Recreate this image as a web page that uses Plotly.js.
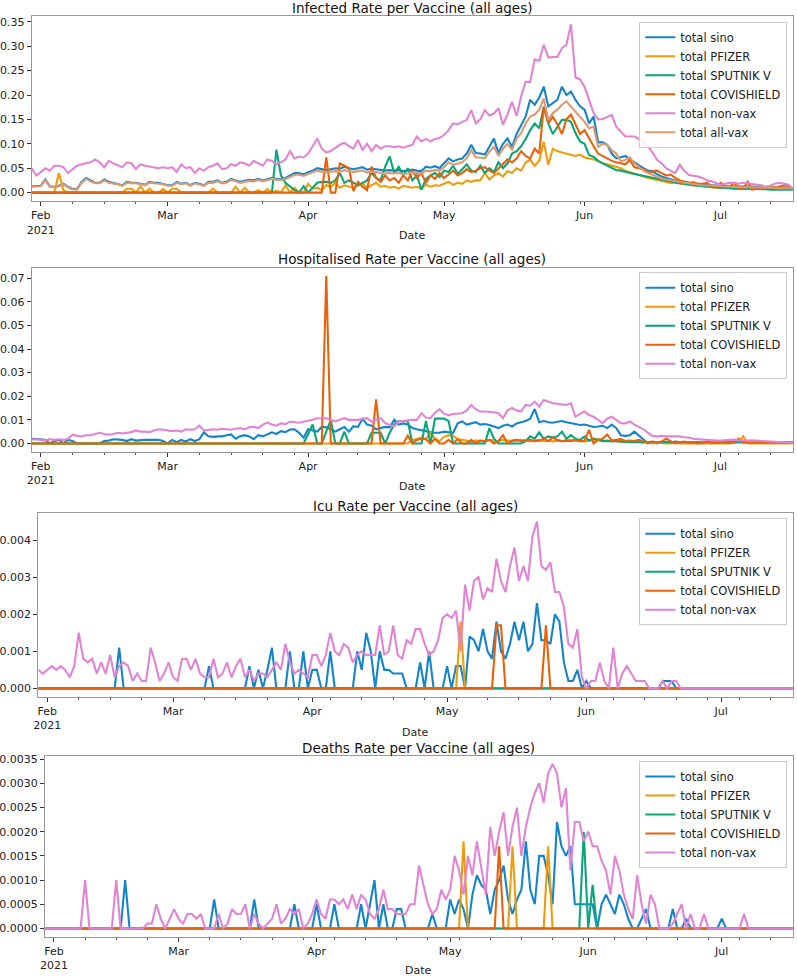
<!DOCTYPE html>
<html>
<head>
<meta charset="utf-8">
<script src="https://cdn.plot.ly/plotly-3.0.1.min.js"></script>
<style>
  html, body { margin: 0; padding: 0; background: #fff; }
  #chart { width: 797px; height: 977px; }
</style>
</head>
<body>
<div id="chart"></div>
<script>
// daily values, 2021-01-30 .. 2021-07-17 (169 days)
const START_DAY = '2021-01-30';
const END_DAY = '2021-07-17';

// ---------- infected ----------
const infSino = [
  .013,.013,.014,.027,.013,.012,.014,.018,.012,.008,
  .007,.022,.030,.025,.020,.020,.027,.022,.020,.018,
  .015,.022,.020,.020,.018,.016,.022,.020,.020,.018,
  .015,.015,.022,.018,.020,.015,.020,.018,.015,.022,
  .022,.025,.020,.022,.028,.025,.022,.024,.026,.025,
  .028,.025,.027,.030,.028,.028,.030,.035,.040,.040,
  .037,.042,.045,.050,.048,.046,.048,.050,.049,.053,
  .050,.048,.050,.052,.047,.049,.048,.047,.045,.046,
  .045,.046,.044,.045,.047,.045,.044,.053,.051,.054,
  .050,.060,.070,.064,.068,.070,.080,.098,.081,.080,
  .078,.094,.111,.081,.100,.111,.094,.120,.139,.156,
  .190,.180,.195,.217,.177,.184,.190,.217,.200,.207,
  .190,.177,.170,.142,.156,.103,.103,.098,.080,.070,
  .072,.075,.068,.062,.055,.050,.045,.043,.038,.033,
  .030,.027,.025,.022,.022,.020,.018,.018,.016,.016,
  .015,.015,.014,.013,.013,.013,.012,.012,.012,.012,
  .012,.012,.011,.011,.011,.010,.010,.010,.010
];
const infPfizer = [
  0,0,0,0,0,0,.040,.005,0,0,
  0,0,0,0,0,0,0,0,0,0,
  0,.008,.008,0,.013,0,.008,0,0,.007,
  0,.008,.008,0,0,0,0,0,0,0,
  .008,0,0,0,0,.012,0,.010,0,0,
  .005,0,.007,0,.004,0,.015,0,.010,0,
  0,.018,.008,.010,.005,.015,.012,.020,.010,.015,
  .012,.010,.015,.018,.010,.015,.020,.012,.014,.010,
  .012,.008,.014,.012,.010,.012,.008,.016,.012,.015,
  .014,.018,.022,.016,.020,.018,.025,.022,.025,.025,
  .040,.027,.035,.040,.033,.044,.040,.050,.045,.062,
  .067,.055,.065,.104,.057,.090,.085,.082,.080,.078,
  .075,.078,.072,.070,.068,.064,.060,.058,.055,.052,
  .050,.045,.042,.038,.035,.033,.030,.028,.026,.024,
  .022,.020,.020,.018,.017,.016,.015,.014,.012,.012,
  .010,.010,.010,.009,.009,.008,.008,.008,.008,.008,
  .008,.008,.008,.008,.008,.008,.008,.008,.008
];
const infSputnik = [
  0,0,0,0,0,0,0,0,0,0,
  0,0,0,0,0,0,0,0,0,0,
  0,0,0,0,0,0,0,0,0,0,
  0,0,0,0,0,0,0,0,0,0,
  0,0,0,0,0,0,0,0,0,0,
  0,0,0,0,.088,.035,.020,.013,.005,0,
  .013,0,.010,.020,.022,.022,.020,.025,.040,.020,
  .025,.020,.015,.020,.025,.040,.030,.025,.053,.074,
  .040,.053,.035,.050,.025,.035,.006,.028,.035,.040,
  .032,.045,.042,.055,.038,.048,.058,.045,.042,.055,
  .040,.050,.042,.062,.050,.060,.080,.085,.095,.110,
  .128,.142,.132,.176,.142,.120,.135,.149,.149,.145,
  .122,.105,.100,.077,.073,.065,.060,.055,.050,.046,
  .045,.042,.040,.038,.036,.034,.032,.030,.028,.026,
  .024,.022,.020,.019,.018,.016,.015,.014,.013,.012,
  .011,.011,.010,.010,.009,.009,.008,.008,.008,.007,
  .007,.007,.007,.006,.006,.006,.006,.006,.006
];
const infCovishield = [
  0,0,0,0,0,0,0,0,0,0,
  0,0,0,0,0,0,0,0,0,0,
  0,0,0,0,0,0,0,0,0,0,
  0,0,0,0,0,0,0,0,0,0,
  0,0,0,0,0,0,0,0,0,0,
  0,0,0,0,0,0,0,0,0,0,
  0,0,0,0,0,.072,0,0,.060,.055,
  .050,.003,.022,.012,.005,.053,.030,.022,.035,.025,
  .030,.020,.035,.025,.045,.030,.040,.020,.035,.028,
  .040,.030,.038,.045,.035,.040,.048,.042,.045,.050,
  .052,.045,.040,.050,.060,.068,.062,.070,.085,.075,
  .070,.090,.080,.176,.142,.155,.140,.120,.150,.160,
  .140,.120,.128,.110,.095,.080,.075,.070,.065,.062,
  .060,.058,.067,.052,.050,.048,.042,.043,.045,.040,
  .035,.037,.030,.025,.022,.020,.021,.018,.018,.020,
  .014,.012,.020,.015,.012,.020,.010,.008,.022,.006,
  .008,.008,.011,.013,.010,.012,.015,.014,.008
];
const infNonVax = [
  .050,.035,.042,.050,.045,.055,.055,.052,.040,.048,
  .055,.058,.060,.062,.068,.062,.052,.065,.060,.056,
  .052,.062,.060,.048,.058,.055,.053,.052,.050,.052,
  .050,.052,.042,.058,.050,.052,.040,.050,.045,.052,
  .055,.060,.048,.050,.058,.055,.062,.060,.055,.065,
  .060,.055,.068,.065,.058,.062,.068,.085,.070,.074,
  .072,.080,.095,.111,.090,.082,.085,.092,.098,.102,
  .095,.090,.108,.088,.100,.085,.098,.090,.095,.095,
  .093,.095,.092,.095,.098,.115,.105,.110,.105,.110,
  .112,.118,.128,.142,.140,.145,.149,.169,.142,.150,
  .169,.158,.162,.173,.139,.160,.186,.157,.197,.227,
  .227,.273,.270,.303,.277,.278,.278,.296,.303,.345,
  .236,.232,.217,.190,.163,.150,.151,.155,.159,.135,
  .125,.115,.115,.115,.110,.104,.094,.082,.067,.060,
  .050,.045,.040,.057,.045,.036,.035,.033,.030,.025,
  .023,.020,.016,.018,.020,.020,.018,.020,.019,.018,
  .017,.015,.012,.014,.018,.020,.018,.016,.008
];
const infAllVax = [
  .012,.012,.013,.025,.012,.011,.013,.017,.011,.007,
  .006,.020,.028,.023,.019,.019,.025,.020,.019,.017,
  .014,.020,.019,.019,.017,.015,.020,.019,.019,.017,
  .014,.014,.020,.017,.019,.014,.019,.017,.014,.020,
  .020,.023,.019,.020,.026,.023,.020,.022,.024,.023,
  .026,.023,.025,.028,.026,.026,.028,.032,.036,.037,
  .034,.038,.041,.045,.043,.041,.043,.044,.043,.046,
  .044,.042,.044,.045,.041,.043,.042,.041,.039,.040,
  .039,.040,.038,.039,.041,.040,.039,.045,.044,.046,
  .045,.052,.062,.057,.060,.062,.070,.087,.072,.072,
  .070,.084,.094,.075,.090,.100,.088,.110,.122,.142,
  .156,.160,.170,.193,.149,.163,.170,.180,.187,.177,
  .166,.156,.145,.132,.135,.094,.100,.098,.087,.080,
  .064,.067,.072,.060,.052,.045,.040,.036,.033,.029,
  .027,.025,.023,.021,.020,.019,.017,.016,.015,.015,
  .014,.014,.013,.012,.012,.012,.011,.011,.011,.011,
  .011,.011,.010,.010,.010,.009,.009,.009,.009
];

// ---------- hospitalised ----------
const hospSino = [
  .0020,.0020,.0018,.0015,0,.0010,.0015,0,.0015,.0010,
  0,0,0,0,0,0,.0010,.0012,.0018,.0018,
  .0015,.0010,.0018,.0012,.0015,.0015,.0015,.0015,.0015,.0010,
  0,.0015,.0005,.0015,.0008,.0018,.0010,.0018,.0047,.0030,
  .0028,.0030,.0030,.0035,.0038,.0020,.0030,.0035,.0030,.0018,
  .0035,.0030,.0040,.0047,.0040,.0052,.0048,.0059,.0060,.0045,
  .0024,.0060,.0055,.0050,.0070,.0068,.0060,.0050,.0060,.0070,
  .0050,.0073,.0070,.0105,.0080,.0075,.0060,.0065,.0070,.0068,
  .0100,.0080,.0085,.0080,.0065,.0060,.0055,.0050,.0048,.0045,
  .0045,.0050,.0048,.0045,.0085,.0093,.0080,.0085,.0090,.0080,
  .0082,.0078,.0070,.0065,.0075,.0080,.0072,.0085,.0090,.0095,
  .0105,.0146,.0090,.0095,.0090,.0088,.0092,.0095,.0090,.0085,
  .0080,.0078,.0080,.0075,.0070,.0072,.0075,.0065,.0080,.0065,
  .0035,.0032,.0035,.0050,.0035,.0017,0,.0005,0,.0005,
  .0005,.0003,.0008,.0005,.0003,.0005,.0003,.0005,.0003,.0005,
  .0005,.0003,.0005,.0005,.0003,.0005,.0005,.0005,.0003,.0005,
  .0005,.0005,.0003,.0005,.0005,.0003,.0005,.0005,.0005
];
const hospPfizer = [
  0,0,0,0,0,0,0,0,0,0,
  0,0,0,0,0,0,0,0,0,0,
  0,0,0,0,0,0,0,0,0,0,
  0,0,0,0,0,0,0,0,0,0,
  0,0,0,0,0,0,0,0,0,0,
  0,0,0,0,0,0,0,0,0,0,
  0,0,0,0,0,0,0,0,0,0,
  0,0,0,0,0,0,0,0,0,0,
  0,0,0,0,.0015,.0020,.0025,.0018,.0045,.0020,
  .0010,.0028,.0035,.0033,.0018,.0015,.0012,.0008,.0012,.0010,
  .0010,.0015,.0012,.0010,.0015,.0012,.0010,.0012,.0015,.0012,
  .0010,.0012,.0015,.0010,.0012,.0008,.0012,.0010,.0012,.0015,
  .0012,.0010,.0008,.0012,.0015,.0018,.0010,.0008,.0012,.0010,
  .0008,.0005,.0010,.0008,.0005,.0003,.0005,0,.0003,0,
  0,0,.0003,0,0,.0003,0,0,0,0,
  0,0,.0003,0,0,.0005,.0005,.0030,0,0,
  0,0,0,0,0,0,0,0,0
];
const hospSputnik = [
  0,0,0,0,0,0,0,0,0,0,
  0,0,0,0,0,0,0,0,0,0,
  0,0,0,0,0,0,0,0,0,0,
  0,0,0,0,0,0,0,0,0,0,
  0,0,0,0,0,0,0,0,0,0,
  0,0,0,0,0,0,0,0,0,0,
  0,.0040,.0080,0,0,.0050,.0100,0,0,.0050,
  0,0,0,0,0,.0045,.0045,.0045,0,.0045,
  .0080,.0095,.0095,.0095,0,0,0,.0095,0,.0105,
  .0105,.0105,.0095,0,0,0,0,0,0,0,
  0,.0065,.0020,0,0,0,0,0,0,.0010,
  .0030,.0020,.0047,.0020,.0030,.0025,.0030,.0050,.0020,.0035,
  .0020,.0015,.0030,.0012,.0020,.0015,.0010,.0012,.0008,.0010,
  .0008,.0005,.0005,.0005,.0005,.0005,.0005,.0005,.0005,.0005,
  .0005,.0005,.0005,.0005,.0005,.0005,.0005,.0005,.0005,.0005,
  .0005,.0005,.0005,.0005,.0005,.0005,.0005,.0005,.0005,.0005,
  .0005,.0005,.0005,.0005,.0005,.0005,.0005,.0005,.0005
];
const hospCovishield = [
  0,0,0,0,0,0,0,0,0,0,
  0,0,0,0,0,0,0,0,0,0,
  0,0,0,0,0,0,0,0,0,0,
  0,0,0,0,0,0,0,0,0,0,
  0,0,0,0,0,0,0,0,0,0,
  0,0,0,0,0,0,0,0,0,0,
  0,0,0,0,0,.0710,0,0,0,0,
  0,0,0,0,0,0,.0187,0,0,0,
  0,0,0,.0033,0,.0015,.0020,.0018,0,.0020,
  0,0,.0015,0,.0018,0,0,.0015,0,.0012,
  .0010,.0015,0,.0010,.0035,0,.0012,.0015,.0010,.0012,
  .0015,.0010,.0012,.0020,.0010,.0025,.0015,.0010,.0012,.0010,
  .0015,.0010,.0012,.0057,0,.0015,.0020,.0038,.0012,.0015,
  .0018,.0010,.0012,.0010,.0015,.0008,.0005,.0008,.0005,.0008,
  .0020,.0010,0,.0005,.0008,.0003,.0005,0,.0003,.0005,
  .0003,.0003,.0003,.0003,.0003,.0003,.0020,.0003,.0005,.0003,
  .0003,.0005,.0003,.0003,.0005,.0003,.0003,.0005,.0003
];
const hospNonVax = [
  .0017,.0018,.0015,.0012,.0018,.0015,.0018,.0015,.0020,.0037,
  .0032,.0030,.0035,.0035,.0040,.0045,.0040,.0037,.0040,.0045,
  .0042,.0045,.0048,.0055,.0050,.0050,.0048,.0055,.0060,.0058,
  .0055,.0052,.0055,.0050,.0060,.0058,.0060,.0075,.0055,.0058,
  .0060,.0058,.0062,.0060,.0058,.0062,.0065,.0060,.0068,.0070,
  .0065,.0080,.0089,.0080,.0075,.0085,.0082,.0093,.0090,.0088,
  .0092,.0095,.0100,.0107,.0107,.0107,.0100,.0093,.0100,.0107,
  .0100,.0100,.0100,.0104,.0107,.0093,.0100,.0107,.0086,.0080,
  .0072,.0093,.0095,.0100,.0100,.0100,.0128,.0110,.0107,.0130,
  .0145,.0125,.0120,.0125,.0128,.0128,.0140,.0163,.0145,.0135,
  .0135,.0135,.0132,.0128,.0107,.0140,.0150,.0140,.0135,.0163,
  .0160,.0177,.0156,.0184,.0178,.0170,.0168,.0165,.0163,.0170,
  .0113,.0125,.0135,.0120,.0113,.0100,.0086,.0105,.0113,.0100,
  .0086,.0085,.0093,.0080,.0070,.0060,.0045,.0032,.0030,.0032,
  .0030,.0030,.0032,.0030,.0026,.0025,.0020,.0018,.0016,.0015,
  .0014,.0012,.0012,.0014,.0015,.0016,.0014,.0012,.0012,.0013,
  .0012,.0010,.0010,.0008,.0008,.0006,.0005,.0004,.0003
];

// ---------- icu ----------
const icuSino = [
  0,0,0,0,0,0,0,0,0,0,
  0,0,0,0,0,0,0,0,.0011,0,
  0,0,0,0,0,0,0,0,0,0,
  0,0,0,0,0,0,0,0,.0006,0,
  0,0,0,0,0,0,0,.0006,0,.0005,
  0,.0005,.0011,0,0,0,.0010,0,0,.0010,
  0,.0005,.0005,0,0,.0010,0,0,0,0,
  0,.0010,.0005,.0015,.0010,0,.0010,.0005,.0005,.0004,
  .0004,.0004,0,0,0,.0007,0,.0010,0,0,
  0,.0006,0,.0006,.0006,0,.0014,.0013,.0010,.0016,
  .0010,.0008,.0018,.0010,.0008,.0012,.0018,.0013,.0018,.0010,
  .0012,.0023,.0013,.0013,.0012,.0020,.0018,.0007,.0002,.0002,
  .0005,0,.0002,0,0,0,0,0,0,0,
  0,0,0,0,0,0,0,0,0,.0002,
  .0002,.0002,0,0,0,0,0,0,0,0,
  0,0,0,0,0,0,0,0,0,0,
  0,0,0,0,0,0,0,0,0
];
const icuPfizer = [
  0,0,0,0,0,0,0,0,0,0,
  0,0,0,0,0,0,0,0,0,0,
  0,0,0,0,0,0,0,0,0,0,
  0,0,0,0,0,0,0,0,0,0,
  0,0,0,0,0,0,0,0,0,0,
  0,0,0,0,0,0,0,0,0,0,
  0,0,0,0,0,0,0,0,0,0,
  0,0,0,0,0,0,0,0,0,0,
  0,0,0,0,0,0,0,0,0,0,
  0,0,0,0,.0018,0,0,0,0,0,
  0,0,0,0,0,0,0,0,0,0,
  0,0,0,0,0,0,0,0,0,0,
  0,0,0,0,0,0,0,0,0,0,
  0,0,0,0,0,0,0,0,0,0,
  0,0,0,0,0,0,0,0,0,0,
  0,0,0,0,0,0,0,0,0,0,
  0,0,0,0,0,0,0,0,0
];
const icuSputnik = [
  0,0,0,0,0,0,0,0,0,0,
  0,0,0,0,0,0,0,0,0,0,
  0,0,0,0,0,0,0,0,0,0,
  0,0,0,0,0,0,0,0,0,0,
  0,0,0,0,0,0,0,0,0,0,
  0,0,0,0,0,0,0,0,0,0,
  0,0,0,0,0,0,0,0,0,0,
  0,0,0,0,0,0,0,0,0,0,
  0,0,0,0,0,0,0,0,0,0,
  0,0,0,0,0,0,0,0,0,0,
  0,0,0,0,0,0,0,0,0,0,
  0,0,0,0,0,0,0,0,0,0,
  0,0,0,0,0,0,0,0,0,0,
  0,0,0,0,0,0,0,0,0,0,
  0,0,0,0,0,0,0,0,0,0,
  0,0,0,0,0,0,0,0,0,0,
  0,0,0,0,0,0,0,0,0
];
const icuCovishield = [
  0,0,0,0,0,0,0,0,0,0,
  0,0,0,0,0,0,0,0,0,0,
  0,0,0,0,0,0,0,0,0,0,
  0,0,0,0,0,0,0,0,0,0,
  0,0,0,0,0,0,0,0,0,0,
  0,0,0,0,0,0,0,0,0,0,
  0,0,0,0,0,0,0,0,0,0,
  0,0,0,0,0,0,0,0,0,0,
  0,0,0,0,0,0,0,0,0,0,
  0,0,0,0,0,0,0,0,0,0,
  0,0,.0017,.0017,0,0,0,0,0,0,
  0,0,0,.0017,0,0,0,0,0,0,
  0,0,0,0,0,0,0,0,0,0,
  0,0,0,0,0,0,0,0,0,0,
  0,0,0,0,0,0,0,0,0,0,
  0,0,0,0,0,0,0,0,0,0,
  0,0,0,0,0,0,0,0,0
];
const icuNonVax = [
  .0005,.0004,.0005,.0006,.0005,.0006,.0005,.0003,.0006,.0015,
  .0008,.0007,.0008,.0004,.0007,.0004,.0009,.0003,.0006,.0007,
  .0006,.0002,.0004,.0002,.0002,.0011,.0007,.0002,.0004,.0007,
  .0003,.0002,.0008,.0008,.0005,.0008,.0004,.0003,.0003,.0008,
  .0003,.0004,.0007,.0003,.0006,.0008,.0003,.0005,.0002,.0004,
  .0004,.0003,.0005,.0007,.0005,.0012,.0007,.0004,.0005,.0004,
  .0003,.0009,.0009,.0006,.0009,.0015,.0010,.0009,.0012,.0011,
  .0007,.0009,.0010,.0009,.0009,.0009,.0017,.0009,.0010,.0017,
  .0009,.0008,.0013,.0012,.0016,.0016,.0012,.0009,.0010,.0013,
  .0019,.0020,.0019,.0021,.0010,.0028,.0021,.0029,.0030,.0024,
  .0027,.0026,.0035,.0029,.0026,.0033,.0038,.0029,.0033,.0029,
  .0041,.0045,.0033,.0032,.0034,.0026,.0026,.0022,.0012,.0011,
  .0016,.0003,0,.0002,.0002,.0007,.0002,0,.0011,0,
  .0004,.0006,.0004,.0002,.0002,.0002,0,0,0,.0002,
  0,.0002,.0002,0,0,0,0,0,0,0,
  0,0,0,0,0,0,0,0,0,0,
  0,0,0,0,0,0,0,0,0
];

// ---------- deaths ----------
const dthSino = [
  0,0,0,0,0,0,0,0,0,0,
  0,0,0,0,0,0,0,0,.0010,0,
  0,0,0,0,0,0,0,0,0,0,
  0,0,0,0,0,0,0,0,.0006,0,
  0,0,0,0,0,0,0,.0006,0,0,
  0,0,0,0,0,0,.0005,0,0,0,
  0,.0005,0,0,0,.0005,0,0,0,0,
  0,.0005,0,.0005,.0010,0,.0005,0,0,.0004,
  .0004,0,0,0,0,0,0,.0003,0,0,
  0,.0006,.0003,.0006,.0004,0,.0007,.0011,.0009,.0008,
  .0003,.0008,.0010,.0013,.0006,.0003,.0006,.0008,.0018,.0008,
  .0005,.0015,.0015,.0011,.0005,.0022,.0017,.0015,.0017,.0005,
  .0005,.0005,.0005,.0005,0,.0005,.0007,.0005,.0003,.0007,
  .0005,.0002,0,0,.0002,.0004,0,0,0,0,
  0,.0004,0,0,.0002,0,0,0,0,0,
  0,0,.0002,0,0,0,0,0,0,0,
  0,0,0,0,0,0,0,0,0
];
const dthPfizer = [
  0,0,0,0,0,0,0,0,0,0,
  0,0,0,0,0,0,0,0,0,0,
  0,0,0,0,0,0,0,0,0,0,
  0,0,0,0,0,0,0,0,0,0,
  0,0,0,0,0,0,0,0,0,0,
  0,0,0,0,0,0,0,0,0,0,
  0,0,0,0,0,0,0,0,0,0,
  0,0,0,0,0,0,0,0,0,0,
  0,0,0,0,0,0,0,0,0,0,
  0,0,0,0,.0018,0,0,0,0,0,
  0,0,0,0,0,.0017,0,0,0,0,
  0,0,0,.0017,0,0,0,0,0,0,
  0,0,0,0,0,0,0,0,0,0,
  0,0,0,0,0,0,0,0,0,0,
  0,0,0,0,0,0,0,0,0,0,
  0,0,0,0,0,0,0,0,0,0,
  0,0,0,0,0,0,0,0,0
];
const dthSputnik = [
  0,0,0,0,0,0,0,0,0,0,
  0,0,0,0,0,0,0,0,0,0,
  0,0,0,0,0,0,0,0,0,0,
  0,0,0,0,0,0,0,0,0,0,
  0,0,0,0,0,0,0,0,0,0,
  0,0,0,0,0,0,0,0,0,0,
  0,0,0,0,0,0,0,0,0,0,
  0,0,0,0,0,0,0,0,0,0,
  0,0,0,0,0,0,0,0,0,0,
  0,0,0,0,0,0,0,0,0,0,
  0,0,0,0,0,0,0,0,0,0,
  0,0,0,0,0,0,0,0,0,0,
  0,.0020,0,.0009,0,0,0,0,0,0,
  0,0,0,0,0,0,0,0,0,0,
  0,0,0,0,0,0,0,0,0,0,
  0,0,0,0,0,0,0,0,0,0,
  0,0,0,0,0,0,0,0,0
];
const dthCovishield = [
  0,0,0,0,0,0,0,0,0,0,
  0,0,0,0,0,0,0,0,0,0,
  0,0,0,0,0,0,0,0,0,0,
  0,0,0,0,0,0,0,0,0,0,
  0,0,0,0,0,0,0,0,0,0,
  0,0,0,0,0,0,0,0,0,0,
  0,0,0,0,0,0,0,0,0,0,
  0,0,0,0,0,0,0,0,0,0,
  0,0,0,0,0,0,0,0,0,0,
  0,0,0,0,0,0,0,0,0,0,
  0,0,.0017,0,0,0,0,0,0,0,
  0,0,0,0,0,0,0,0,0,0,
  0,0,0,0,0,0,0,0,0,0,
  0,0,0,0,0,0,0,0,0,0,
  0,0,0,0,0,0,0,0,0,0,
  0,0,0,0,0,0,0,0,0,0,
  0,0,0,0,0,0,0,0,0
];
const dthNonVax = [
  0,0,0,0,0,0,0,0,0,.0010,
  0,0,0,0,0,0,.0010,0,0,0,
  0,0,0,.0001,.0001,.0005,.0002,0,.0002,.0004,
  .0002,.0001,.0003,.0003,.0002,.0003,0,0,0,.0003,
  0,.0001,.0004,.0003,.0003,.0005,0,.0003,.0001,0,
  .0001,.0002,.0005,.0001,.0002,.0004,.0003,.0004,0,.0001,
  .0003,.0006,.0003,.0002,.0006,.0006,.0005,.0006,.0004,.0007,
  .0004,.0007,.0006,.0003,.0002,.0004,.0008,.0004,.0004,.0003,
  .0003,.0003,.0005,.0005,.0013,.0009,.0005,.0003,.0004,.0008,
  .0006,.0008,.0015,.0012,.0007,.0015,.0011,.0018,.0012,.0007,
  .0021,.0015,.0020,.0024,.0015,.0021,.0025,.0015,.0021,.0025,
  .0028,.0030,.0026,.0032,.0034,.0032,.0025,.0029,.0012,.0022,
  .0022,.0018,.0020,.0017,.0017,.0014,.0012,.0007,.0015,.0012,
  .0007,.0004,.0002,.0011,.0005,.0001,.0007,.0005,0,0,
  0,.0001,.0003,.0005,0,.0003,0,0,.0003,0,
  0,0,0,0,0,0,0,.0003,0,0,
  0,0,0,0,0,0,0,0,0
];

const seriesNames = ['total sino', 'total PFIZER', 'total SPUTNIK V', 'total COVISHIELD', 'total non-vax', 'total all-vax'];
const seriesColors = ['#1485c8', '#ee9c0c', '#0ba57a', '#e8620a', '#e184d4', '#dd9a72'];
const panelTitles = [
  'Infected Rate per Vaccine (all ages)',
  'Hospitalised Rate per Vaccine (all ages)',
  'Icu Rate per Vaccine (all ages)',
  'Deaths Rate per Vaccine (all ages)'
];
const monthTicks = ['2021-02-01', '2021-03-01', '2021-04-01', '2021-05-01', '2021-06-01', '2021-07-01'];
const monthLabels = ['Feb<br>2021', 'Mar', 'Apr', 'May', 'Jun', 'Jul'];

// dates for the daily rows
const dates = [];
const t0 = Date.parse(START_DAY + 'T00:00:00Z');
for (let k = 0; k < infSino.length; k++) {
  dates.push(new Date(t0 + k * 86400000).toISOString().slice(0, 10));
}

const W = 797, H = 977;
const FONT = 'DejaVu Sans, Liberation Sans, sans-serif';

// pixel boxes of the four panels (left, right, top, bottom)
const panels = [
  { box: [31.7, 793, 16, 201], yRange: [-0.01725, 0.362], dtick: 0.05, fmt: '.2f',
    series: [infSino, infPfizer, infSputnik, infCovishield, infNonVax, infAllVax],
    legendTop: 21.7, titleY: 8, dateY: 235 },
  { box: [31.7, 793, 268.3, 451.7], yRange: [-0.0035, 0.0742], dtick: 0.01, fmt: '.2f',
    series: [hospSino, hospPfizer, hospSputnik, hospCovishield, hospNonVax],
    legendTop: 272.3, titleY: 259, dateY: 487 },
  { box: [38.3, 793, 513.3, 696.7], yRange: [-0.000225, 0.004725], dtick: 0.001, fmt: '.3f',
    series: [icuSino, icuPfizer, icuSputnik, icuCovishield, icuNonVax],
    legendTop: 518.3, titleY: 506, dateY: 732 },
  { box: [45, 793, 755.7, 936.7], yRange: [-0.00017, 0.00357], dtick: 0.0005, fmt: '.4f',
    series: [dthSino, dthPfizer, dthSputnik, dthCovishield, dthNonVax],
    legendTop: 761, titleY: 747.7, dateY: 970 }
];

const data = [];
const layout = {
  width: W, height: H,
  margin: { l: 0, r: 0, t: 0, b: 0 },
  paper_bgcolor: '#ffffff',
  plot_bgcolor: '#ffffff',
  font: { family: FONT, size: 11, color: '#222' },
  showlegend: true,
  annotations: []
};

panels.forEach((p, idx) => {
  const n = idx + 1;
  const xName = n === 1 ? 'x' : 'x' + n;
  const yName = n === 1 ? 'y' : 'y' + n;
  const legName = n === 1 ? 'legend' : 'legend' + n;
  const [l, r, t, b] = p.box;
  const xDom = [l / W, r / W];
  const yDom = [1 - b / H, 1 - t / H];

  p.series.forEach((vals, s) => {
    data.push({
      type: 'scatter', mode: 'lines',
      x: dates, y: vals,
      name: seriesNames[s],
      line: { color: seriesColors[s], width: 2.1 },
      xaxis: xName, yaxis: yName,
      legend: legName,
      hoverinfo: 'skip'
    });
  });

  layout[n === 1 ? 'xaxis' : 'xaxis' + n] = {
    domain: xDom, anchor: yName, type: 'date',
    range: [START_DAY, END_DAY],
    tickmode: 'array', tickvals: monthTicks, ticktext: monthLabels,
    ticks: 'outside', ticklen: 4, tickwidth: 1, tickcolor: '#333',
    minor: { ticks: 'outside', ticklen: 2, tickwidth: 1, tickcolor: '#555',
             tick0: '2021-02-01', dtick: 7 * 86400000, showgrid: false },
    showline: true, mirror: true, linecolor: '#999', linewidth: 1,
    showgrid: false, zeroline: false,
    tickfont: { family: FONT, size: 11, color: '#222' }
  };
  layout[n === 1 ? 'yaxis' : 'yaxis' + n] = {
    domain: yDom, anchor: xName,
    range: p.yRange,
    tickmode: 'linear', tick0: 0, dtick: p.dtick, tickformat: p.fmt,
    ticks: 'outside', ticklen: 4, tickwidth: 1, tickcolor: '#333',
    showline: true, mirror: true, linecolor: '#999', linewidth: 1,
    showgrid: false, zeroline: false,
    tickfont: { family: FONT, size: 11, color: '#222' }
  };
  layout[legName] = {
    x: 787.3 / W, y: 1 - p.legendTop / H,
    xanchor: 'right', yanchor: 'top',
    bgcolor: 'rgba(255,255,255,0.85)',
    bordercolor: '#cccccc', borderwidth: 1,
    font: { family: FONT, size: 11.5, color: '#222' },
    itemwidth: 30
  };

  const cx = (l + r) / 2 / W;
  layout.annotations.push({
    text: panelTitles[idx], xref: 'paper', yref: 'paper',
    x: cx, y: 1 - p.titleY / H, xanchor: 'center', yanchor: 'middle',
    showarrow: false, font: { family: FONT, size: 13.5, color: '#111' }
  });
  layout.annotations.push({
    text: 'Date', xref: 'paper', yref: 'paper',
    x: cx, y: 1 - p.dateY / H, xanchor: 'center', yanchor: 'middle',
    showarrow: false, font: { family: FONT, size: 11, color: '#222' }
  });
});

Plotly.newPlot('chart', data, layout, { staticPlot: true, displayModeBar: false });
</script>
</body>
</html>
